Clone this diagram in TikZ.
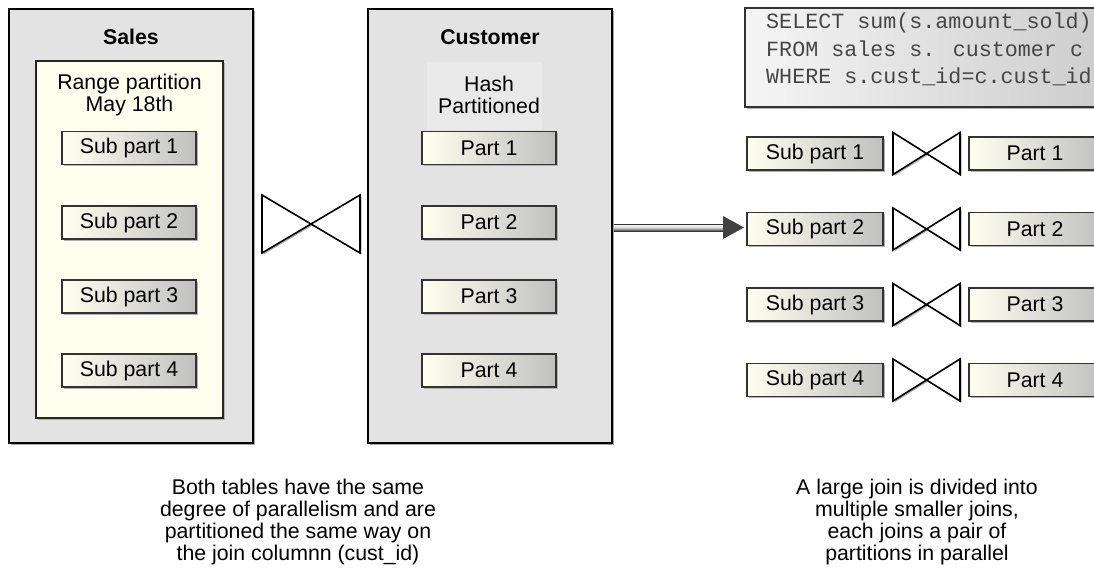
\documentclass[tikz,border=0pt]{standalone}
\usepackage{fontspec}
\setmainfont{Liberation Sans}
\newfontfamily\sqlfont{Liberation Mono}
\usetikzlibrary{shadows,calc}
\definecolor{tblbg}{RGB}{227,227,227}
\definecolor{hashbgc}{RGB}{233,233,233}
\definecolor{creambg}{RGB}{255,255,240}
\definecolor{partL}{RGB}{255,255,240}
\definecolor{partR}{RGB}{192,192,192}
\definecolor{sqlL}{RGB}{245,245,245}
\definecolor{sqlR}{RGB}{205,205,205}
\definecolor{sqltext}{RGB}{70,70,70}
\newcommand\mytie[4]{%
  \path[fill=gray!60] (#1+1.5,#2+1.5) -- (#3+1.5,#4+1.5) -- (#3+1.5,#2+1.5) -- (#1+1.5,#4+1.5) -- cycle;
  \draw[line width=1.6pt, fill=white, line join=miter] (#1,#2) -- (#3,#4) -- (#3,#2) -- (#1,#4) -- cycle;}
\begin{document}
\begin{tikzpicture}[x=1pt,y=-1pt,
  every node/.style={font=\fontsize{21.3}{21.8}\selectfont, inner sep=0pt},
  tablebox/.style={draw=black, line width=2pt, fill=tblbg,
    drop shadow={shadow xshift=1.5pt, shadow yshift=-1.5pt, fill=gray!70, opacity=1}},
  creambox/.style={draw=black!85, line width=1.5pt, fill=creambg,
    drop shadow={shadow xshift=1.5pt, shadow yshift=-1.5pt, fill=gray!60, opacity=1}},
  partbox/.style={draw=black!80, line width=1.5pt, left color=partL, right color=partR,
    minimum height=33, drop shadow={shadow xshift=1.5pt, shadow yshift=-1.5pt, fill=gray!60, opacity=1}},
  sqlbox/.style={draw=black!80, line width=1.5pt, left color=sqlL, right color=sqlR,
    drop shadow={shadow xshift=1.5pt, shadow yshift=-1.5pt, fill=gray!60, opacity=1}},
  title/.style={font=\fontsize{21.3}{21.8}\selectfont\bfseries},
  caption/.style={align=center}
]
\clip (0,0) rectangle (1094,573);
\fill[white] (0,0) rectangle (1094,573);

% left tables
\node[tablebox, minimum width=244, minimum height=434] (sales) at (131,226) {};
\node[tablebox, minimum width=244, minimum height=434] (cust) at (490,226) {};
\node[title] (salest) at (131,37) {Sales};
\node[title] (custt) at (490,37) {Customer};
\node[creambox, minimum width=187, minimum height=357] (range) at (129.5,239.5) {};
\node[align=center] (ranget) at (129.5,95) {Range partition\\May 18th};
\node[fill=hashbgc, minimum width=115, minimum height=68] (hashbg) at (484.5,96) {};
\node[align=center] (hasht) at (489,95) {Hash\\Partitioned};

\foreach \i/\y in {1/148,2/222.5,3/296.5,4/370.5}{
  \node[partbox, minimum width=134] (sp\i) at (129,\y) {Sub part \i};
  \node[partbox, minimum width=134] (p\i) at (489,\y) {Part \i};
}

% big join symbol
\mytie{262}{195}{360}{253}

% arrow
\coordinate (astart) at ($(cust.east |- 0,227.5)+(1,0)$);
\coordinate (aend) at (744,227.5);
\shade[top color=white, bottom color=black!75, middle color=black!15]
  ($(astart)+(0,-3.5)$) rectangle ($(aend)+(-20,3.5)$);
\draw[black!80, line width=0.6pt] ($(astart)+(0,-3.5)$) -- ($(aend)+(-20,-3.5)$)
  ($(astart)+(0,3.5)$) -- ($(aend)+(-20,3.5)$);
\fill[black!75] ($(aend)+(-21,-11.5)$) -- (aend) -- ($(aend)+(-21,11.5)$) -- cycle;

% SQL box
\node[sqlbox, minimum width=359, minimum height=99] (sql) at (924.5,57.5) {};
\node[anchor=north west, align=left, font=\fontsize{21.7}{27.5}\selectfont\sqlfont, text=sqltext] (sqlt) at (766,13)
  {SELECT sum(s.amount\_sold)\\FROM sales s. customer c\\WHERE s.cust\_id=c.cust\_id};

% right rows
\foreach \i/\y in {1/153.5,2/229,3/304.5,4/380}{
  \node[partbox, minimum width=136] (rsp\i) at (815,\y) {Sub part \i};
  \node[partbox, minimum width=132] (rp\i) at (1035,\y) {Part \i};
  \mytie{893}{\y-21}{960}{\y+21}
}

% captions
\node[caption] (capl) at (298,522) {Both tables have the same\\degree of parallelism and are\\partitioned the same way on\\the join columnn (cust\_id)};
\node[caption] (capr) at (917,522) {A large join is divided into\\multiple smaller joins,\\each joins a pair of\\partitions in parallel};
\end{tikzpicture}
\end{document}
